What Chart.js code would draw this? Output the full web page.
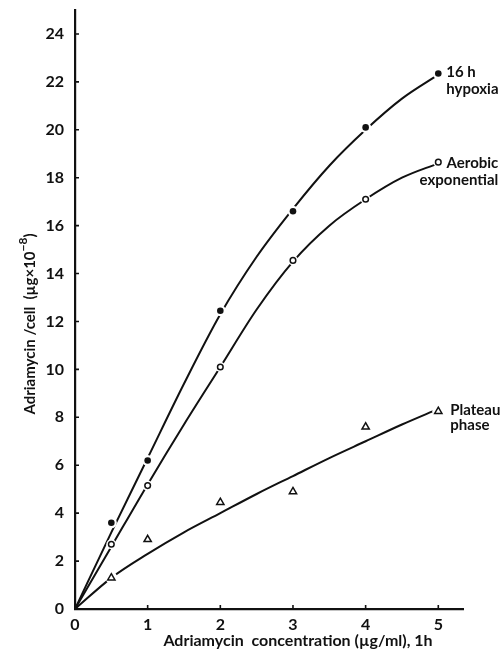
<!DOCTYPE html>
<html>
<head>
<meta charset="utf-8">
<script src="https://cdn.jsdelivr.net/npm/chart.js@4.4.0/dist/chart.umd.min.js"></script>
<style>
  html, body { margin: 0; padding: 0; background: #fff; }
  #wrap { width: 503px; height: 650px; }
</style>
</head>
<body>
<div id="wrap"><canvas id="adriaChart" width="503" height="650"></canvas></div>
<script>
// measured points (concentration in ug/ml, uptake in ug x 10^-8 per cell)
const concX = [0.5, 1, 2, 3, 4, 5];
const hypoxiaPts = [3.6, 6.2, 12.45, 16.6, 20.1, 22.35];
const aerobicPts = [2.7, 5.15, 10.1, 14.55, 17.1, 18.65];
const plateauPts = [1.3, 2.9, 4.45, 4.9, 7.6, 8.25];

// hand drawn fitted curves
const curveX = [0, 0.5, 1, 1.5, 2, 2.5, 3, 3.5, 4, 4.5, 5];
const hypoxiaCurve = [0, 3.2, 6.3, 9.4, 12.3, 14.7, 16.7, 18.5, 20.0, 21.3, 22.3];
const aerobicCurve = [0, 2.6, 5.2, 7.7, 10.1, 12.5, 14.5, 16.0, 17.1, 18.0, 18.6];
const plateauCurve = [0, 1.3, 2.3, 3.2, 4.0, 4.8, 5.55, 6.3, 7.0, 7.7, 8.35];

const xTicks = [0, 1, 2, 3, 4, 5];
const yTicks = [0, 2, 4, 6, 8, 10, 12, 14, 16, 18, 20, 22, 24];

const FONT = 'Lato, "DejaVu Sans", sans-serif';
const INK = '#111';

const pairs = (xs, ys) => xs.map((v, i) => ({ x: v, y: ys[i] }));

const curveSet = (ys) => ({
    data: pairs(curveX, ys), showLine: true, borderColor: INK, borderWidth: 2,
    pointRadius: 0, cubicInterpolationMode: 'monotone', order: 3
});
const haloSet = (ys, r) => ({
    data: pairs(concX, ys), pointRadius: r, pointBackgroundColor: '#fff',
    pointBorderWidth: 0, pointStyle: 'circle', order: 2
});

const axisDecor = {
    id: 'axisDecor',
    afterDraw(chart) {
        const { ctx, scales: { x, y } } = chart;
        ctx.save();
        // inward tick marks
        ctx.strokeStyle = INK; ctx.lineWidth = 1.6;
        ctx.beginPath();
        xTicks.forEach(v => { if (v === 0) return; const px = x.getPixelForValue(v); ctx.moveTo(px, y.bottom); ctx.lineTo(px, y.bottom - 4); });
        yTicks.forEach(v => { if (v === 0) return; const py = y.getPixelForValue(v); ctx.moveTo(x.left, py); ctx.lineTo(x.left + 4, py); });
        ctx.stroke();

        ctx.fillStyle = INK;
        ctx.font = 'bold 15px ' + FONT;
        ctx.textBaseline = 'alphabetic';

        // series labels next to the last points
        const x5 = x.getPixelForValue(5);
        ctx.textAlign = 'left';
        ctx.fillText('16 h', x5 + 8, y.getPixelForValue(22.3) + 2);
        ctx.fillText('hypoxia', x5 + 8, y.getPixelForValue(22.3) + 19);
        ctx.textAlign = 'right';
        ctx.fillText('Aerobic', x5 + 60, y.getPixelForValue(18.65) + 6);
        ctx.fillText('exponential', x5 + 60, y.getPixelForValue(18.65) + 23);
        ctx.textAlign = 'left';
        ctx.fillText('Plateau', x5 + 12, y.getPixelForValue(8.25) + 4);
        ctx.fillText('phase', x5 + 12, y.getPixelForValue(8.25) + 19);

        // x axis title
        ctx.font = 'bold 16px ' + FONT;
        ctx.textAlign = 'center';
        ctx.fillText('Adriamycin  concentration (\u00b5g/ml), 1h', 298, 646);

        // y axis title with raised exponent
        ctx.translate(35, 324);
        ctx.rotate(-Math.PI / 2);
        const main = 'Adriamycin /cell  (\u00b5g\u00d710';
        ctx.font = 'bold 15px ' + FONT;
        const wMain = ctx.measureText(main).width;
        ctx.font = 'bold 12px ' + FONT;
        const wExp = ctx.measureText('\u22128').width;
        ctx.font = 'bold 15px ' + FONT;
        const wEnd = ctx.measureText(')').width;
        let sx = -(wMain + wExp + wEnd) / 2;
        ctx.textAlign = 'left';
        ctx.fillText(main, sx, 0);
        ctx.font = 'bold 12px ' + FONT;
        ctx.fillText('\u22128', sx + wMain, -8);
        ctx.font = 'bold 15px ' + FONT;
        ctx.fillText(')', sx + wMain + wExp, 0);
        ctx.restore();
    }
};

new Chart(document.getElementById('adriaChart'), {
    type: 'scatter',
    data: {
        datasets: [
            { label: '16 h hypoxia', data: pairs(concX, hypoxiaPts), pointStyle: 'circle', pointRadius: 3.3, pointBackgroundColor: INK, pointBorderColor: INK, pointBorderWidth: 0, order: 0 },
            { label: 'Aerobic exponential', data: pairs(concX, aerobicPts), pointStyle: 'circle', pointRadius: 2.8, pointBackgroundColor: '#fff', pointBorderColor: INK, pointBorderWidth: 1.5, order: 0 },
            { label: 'Plateau phase', data: pairs(concX, plateauPts), pointStyle: 'triangle', pointRadius: 4.2, pointBackgroundColor: '#fff', pointBorderColor: INK, pointBorderWidth: 1.5, order: 0 },
            haloSet(hypoxiaPts, 5.5), haloSet(aerobicPts, 5), haloSet(plateauPts, 6),
            curveSet(hypoxiaCurve), curveSet(aerobicCurve), curveSet(plateauCurve)
        ]
    },
    options: {
        responsive: false, animation: false,
        layout: { padding: { top: 10, right: 40, left: 0, bottom: 0 } },
        plugins: { legend: { display: false }, tooltip: { enabled: false } },
        scales: {
            x: {
                type: 'linear', min: 0, max: 5.34,
                afterBuildTicks: (s) => { s.ticks = xTicks.map(v => ({ value: v })); },
                afterFit: (s) => { s.height = 41; s.paddingLeft = 0; s.paddingRight = 0; },
                grid: { display: true, drawOnChartArea: false, drawTicks: false },
                border: { display: true, color: INK, width: 2.2 },
                ticks: { color: INK, padding: 6, font: { family: FONT, size: 16, weight: 'bold' } }
            },
            y: {
                type: 'linear', min: 0, max: 25,
                afterBuildTicks: (s) => { s.ticks = yTicks.map(v => ({ value: v })); },
                afterFit: (s) => { s.width = 75; s.paddingTop = 0; s.paddingBottom = 0; },
                grid: { display: true, drawOnChartArea: false, drawTicks: false },
                border: { display: true, color: INK, width: 2.2 },
                ticks: { color: INK, padding: 11, font: { family: FONT, size: 16, weight: 'bold' } }
            }
        }
    },
    plugins: [axisDecor]
});
</script>
</body>
</html>
